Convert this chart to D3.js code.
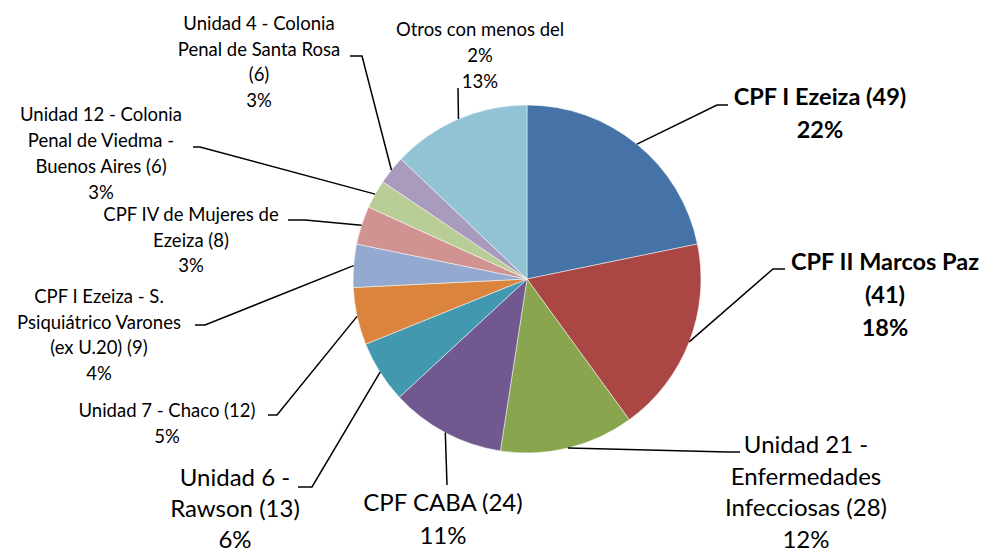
<!DOCTYPE html>
<html>
<head>
<meta charset="utf-8">
<script src="https://cdn.jsdelivr.net/npm/d3@7"></script>
<style>
  body { margin: 0; background: #fff; }
  text { font-family: Lato, "Open Sans", sans-serif; fill: #000; }
</style>
</head>
<body>
<div id="chart"></div>
<script>
// Data
var categories = [
  'CPF I Ezeiza', 'CPF II Marcos Paz', 'Unidad 21 - Enfermedades Infecciosas',
  'CPF CABA', 'Unidad 6 - Rawson', 'Unidad 7 - Chaco',
  'CPF I Ezeiza - S. Psiquiátrico Varones (ex U.20)', 'CPF IV de Mujeres de Ezeiza',
  'Unidad 12 - Colonia Penal de Viedma - Buenos Aires',
  'Unidad 4 - Colonia Penal de Santa Rosa', 'Otros con menos del 2%'
];
var values = [49, 41, 28, 24, 13, 12, 9, 8, 6, 6, 29];
var percentLabels = ['22%', '18%', '12%', '11%', '6%', '5%', '4%', '3%', '3%', '3%', '13%'];

// label text as wrapped in the chart
var labelLines = [
  ['CPF I Ezeiza (49)', '22%'],
  ['CPF II Marcos Paz', '(41)', '18%'],
  ['Unidad 21 -', 'Enfermedades', 'Infecciosas (28)', '12%'],
  ['CPF CABA (24)', '11%'],
  ['Unidad 6 -', 'Rawson (13)', '6%'],
  ['Unidad 7 - Chaco (12)', '5%'],
  ['CPF I Ezeiza - S.', 'Psiquiátrico Varones', '(ex U.20) (9)', '4%'],
  ['CPF IV de Mujeres de', 'Ezeiza (8)', '3%'],
  ['Unidad 12 - Colonia', 'Penal de Viedma -', 'Buenos Aires (6)', '3%'],
  ['Unidad 4 - Colonia', 'Penal de Santa Rosa', '(6)', '3%'],
  ['Otros con menos del', '2%', '13%']
];

var colors = ['#4572A7', '#AA4643', '#89A54E', '#71588F', '#4198AF', '#DB843D',
  '#93A9CF', '#D19392', '#B9CD96', '#A99BBD', '#92C3D4'];

// label layout: center x, first line middle y, line gap, font size, bold, leader bend x/y, leader end x
var layout = [
  { x: 820, y: 97, gap: 33, size: 23.5, bold: true, bx: 717, by: 105, ex: 728 },
  { x: 885, y: 262, gap: 33, size: 23.5, bold: true, bx: 773, by: 269, ex: 785 },
  { x: 806, y: 445, gap: 31.5, size: 24, bold: false, bx: 728, by: 452, ex: 740 },
  { x: 443, y: 503, gap: 33, size: 24, bold: false, bx: 447, by: 485, ex: 447 },
  { x: 235, y: 478, gap: 31, size: 24, bold: false, bx: 312, by: 487, ex: 298 },
  { x: 167, y: 411, gap: 26, size: 18.5, bold: false, bx: 277, by: 415, ex: 268 },
  { x: 99, y: 297, gap: 25.5, size: 18.5, bold: false, bx: 205, by: 325, ex: 195 },
  { x: 191, y: 215, gap: 25.5, size: 18.5, bold: false, bx: 305, by: 220, ex: 288 },
  { x: 101, y: 115, gap: 26, size: 18.5, bold: false, bx: 200, by: 147, ex: 193 },
  { x: 259, y: 24, gap: 25.5, size: 18.5, bold: false, bx: 362, by: 56, ex: 350 },
  { x: 480, y: 30, gap: 26, size: 18.5, bold: false, bx: 458, by: 88, ex: 458 }
];

var svgWidth = 983;
var svgHeight = 552;
var cx = 527;
var cy = 279;
var radius = 174;

var svg = d3.select('#chart')
  .append('svg')
  .attr('width', svgWidth)
  .attr('height', svgHeight);

var data = categories.map(function (c, i) {
  return { name: c, value: values[i], pct: percentLabels[i], lines: labelLines[i], lay: layout[i], color: colors[i] };
});

var pie = d3.pie().sort(null).value(function (d) { return d.value; });
var arc = d3.arc().innerRadius(0).outerRadius(radius);
var edgeArc = d3.arc().innerRadius(radius).outerRadius(radius);

var pieGroup = svg.append('g')
  .attr('transform', `translate(${cx}, ${cy})`);

var arcs = pie(data);

pieGroup.selectAll('path.slice')
  .data(arcs)
  .enter()
  .append('path')
  .attr('class', 'slice')
  .attr('d', arc)
  .style('fill', function (d) { return d.data.color; })
  .style('stroke', '#fff')
  .style('stroke-width', 0.5);

// leader lines
pieGroup.selectAll('path.leader')
  .data(arcs)
  .enter()
  .append('path')
  .attr('class', 'leader')
  .attr('d', function (d) {
    var p = edgeArc.centroid(d);
    var l = d.data.lay;
    return d3.line()([p, [l.bx - cx, l.by - cy], [l.ex - cx, l.by - cy]]);
  })
  .style('fill', 'none')
  .style('stroke', '#000')
  .style('stroke-width', 1.5);

// labels
var labels = svg.selectAll('text.label')
  .data(data)
  .enter()
  .append('text')
  .attr('class', 'label')
  .attr('text-anchor', 'middle')
  .style('font-size', function (d) { return d.lay.size + 'px'; })
  .style('font-weight', function (d) { return d.lay.bold ? 'bold' : 'normal'; });

labels.each(function (d) {
  var t = d3.select(this);
  d.lines.forEach(function (line, i) {
    t.append('tspan')
      .attr('x', d.lay.x)
      .attr('y', d.lay.y + i * d.lay.gap)
      .attr('dy', '0.35em')
      .text(line);
  });
});
</script>
</body>
</html>
